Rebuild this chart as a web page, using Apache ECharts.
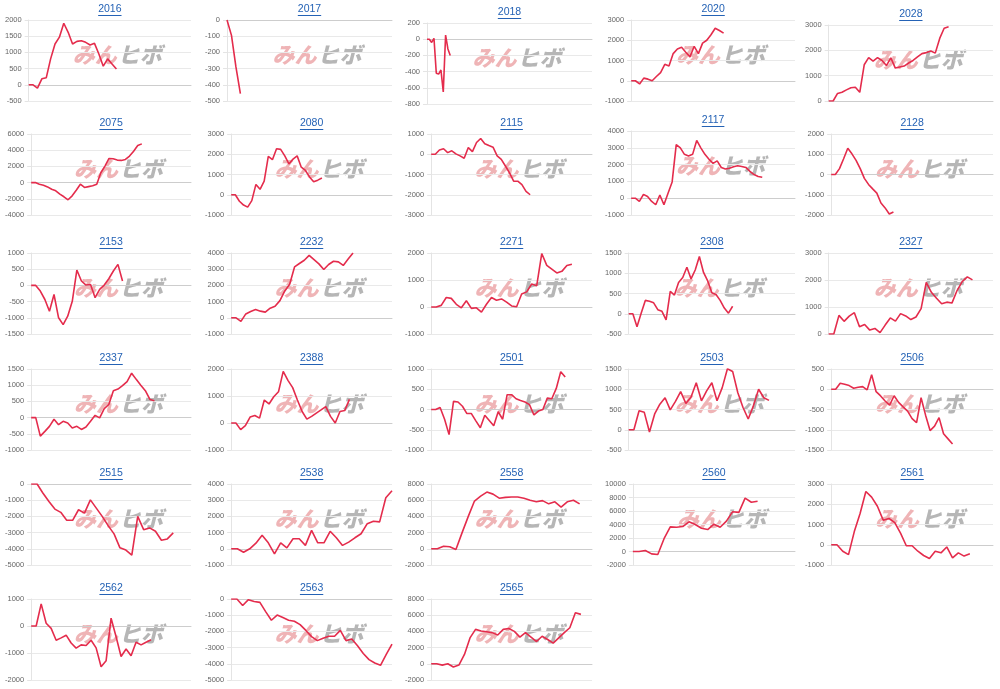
<!DOCTYPE html>
<html>
<head>
<meta charset="utf-8">
<script src="https://cdn.jsdelivr.net/npm/echarts@6/dist/echarts.min.js"></script>
<style>
html, body { margin: 0; background: #fff; }
#main { width: 1000px; height: 689px; }
</style>
</head>
<body>
<div id="main"></div>
<script>
// stock codes, one small chart each (read left to right, top to bottom)
const codes = ['2016', '2017', '2018', '2020', '2028',
               '2075', '2080', '2115', '2117', '2128',
               '2153', '2232', '2271', '2308', '2327',
               '2337', '2388', '2501', '2503', '2506',
               '2515', '2538', '2558', '2560', '2561',
               '2562', '2563', '2565'];

// cumulative profit per period
const s2016 = [0, 0, -100, 185, 215, 800, 1260, 1470, 1900, 1620, 1260, 1340, 1360, 1310, 1230, 1280, 950, 575, 800, 645, 490];
const s2017 = [0, -95, -290, -455];
const s2018 = [0, 0, -40, 10, -420, -430, -380, -650, 50, -120, -200];
const s2020 = [0, 0, -160, 130, 80, 0, 210, 400, 810, 730, 1340, 1570, 1650, 1410, 1180, 1700, 1340, 1860, 2000, 2270, 2590, 2480, 2350];
const s2028 = [0, 0, 300, 345, 440, 520, 545, 345, 1430, 1710, 1570, 1710, 1600, 1400, 1700, 1300, 1340, 1380, 1500, 1600, 1740, 1870, 1910, 1970, 1890, 2470, 2870, 2930];
const s2075 = [0, 0, -200, -330, -530, -820, -1020, -1430, -1750, -2120, -1630, -940, -200, -600, -500, -400, -200, 1220, 2040, 2980, 2940, 2780, 2740, 2860, 3270, 3880, 4570, 4780];
const s2080 = [0, 0, -320, -510, -610, -290, 510, 270, 670, 1890, 1730, 2270, 2240, 1920, 1520, 1760, 1920, 1360, 1200, 880, 640, 720, 830];
const s2115 = [0, 0, 210, 270, 80, 170, 20, -80, -200, 330, 130, 580, 780, 520, 430, 350, -80, -250, -580, -920, -1330, -1330, -1500, -1830, -2000];
const s2117 = [0, 0, -190, 230, 100, -190, -390, 190, -390, 300, 970, 3190, 3000, 2610, 2510, 2610, 3440, 3000, 2610, 2320, 2070, 2220, 1830, 1740, 1780, 1870, 1930, 1890, 1830, 1600, 1410, 1290, 1250];
const s2128 = [0, 0, 290, 780, 1300, 1020, 700, 290, -190, -490, -710, -920, -1410, -1650, -1950, -1850];
const s2153 = [0, 0, -175, -435, -800, -280, -1000, -1210, -950, -490, 475, 135, 10, 30, -380, -125, 10, 205, 445, 650, 135];
const s2232 = [0, 0, -220, 240, 390, 510, 410, 350, 590, 710, 1060, 1660, 2070, 3140, 3350, 3550, 3850, 3590, 3330, 2980, 3290, 3490, 3450, 3230, 3630, 4000];
const s2271 = [0, 0, 60, 350, 320, 100, -30, 230, -50, -30, -190, 100, 350, 250, 300, 180, 40, 10, 480, 560, 850, 790, 1980, 1540, 1400, 1260, 1320, 1540, 1580];
const s2308 = [0, 0, -320, 15, 330, 310, 270, 100, 60, -150, 550, 460, 770, 895, 1150, 860, 1080, 1415, 1020, 810, 520, 475, 330, 140, 15, 185];
const s2327 = [0, 0, 690, 470, 660, 790, 270, 350, 145, 205, 50, 330, 595, 475, 755, 670, 535, 630, 940, 1910, 1545, 1325, 1120, 1180, 1145, 1610, 1940, 2115, 2005];
const s2337 = [0, 0, -570, -425, -270, -50, -220, -115, -165, -320, -270, -365, -290, -115, 70, -10, 280, 405, 830, 880, 985, 1110, 1370, 1180, 1000, 830, 560, 520];
const s2388 = [0, 0, -245, -100, 220, 280, 180, 850, 705, 970, 1155, 1910, 1580, 1310, 850, 425, 145, 245, 365, 485, 610, 245, 0, 425, 460, 875];
const s2501 = [0, 0, 50, -240, -620, 200, 185, 80, -100, -100, -280, -450, -140, -270, -400, -55, -240, 365, 365, 265, 220, 185, 120, -135, -40, 0, 280, 265, 520, 935, 800];
const s2503 = [0, 0, 470, 430, -55, 390, 630, 790, 490, 700, 940, 650, 810, 1160, 715, 960, 1160, 715, 1040, 1505, 1440, 915, 550, 265, 590, 1000, 790, 725];
const s2506 = [0, 0, 150, 125, 90, 25, 50, 65, -15, 360, -60, -165, -290, -390, -160, -325, -435, -540, -725, -825, -210, -640, -1020, -910, -700, -1100, -1225, -1350];
const s2515 = [0, 0, -570, -1080, -1550, -1750, -2240, -2240, -1590, -1800, -980, -1490, -2000, -2570, -3080, -3940, -4080, -4390, -2000, -2820, -2710, -2920, -3470, -3390, -3020];
const s2538 = [0, 0, -210, 0, 350, 830, 370, -310, 370, 60, 620, 620, 210, 1140, 370, 370, 1080, 680, 210, 410, 680, 930, 1550, 1700, 1660, 3150, 3580];
const s2558 = [0, 0, 320, 250, -80, 2000, 4000, 5900, 6500, 7000, 6750, 6250, 6350, 6400, 6400, 6250, 6000, 5800, 5950, 5550, 5800, 5150, 5800, 6000, 5550];
const s2560 = [0, 0, 150, -350, -450, 1900, 3650, 3600, 3700, 4400, 4000, 3450, 3250, 4050, 3600, 4500, 5900, 5800, 7900, 7300, 7450];
const s2561 = [0, 0, -320, -490, 650, 1540, 2630, 2350, 1900, 1215, 1300, 1090, 570, -50, -50, -320, -530, -680, -320, -400, -110, -650, -400, -560, -450];
const s2562 = [0, 0, 820, 100, -90, -530, -440, -340, -630, -820, -700, -720, -530, -810, -1510, -1290, 290, -400, -1130, -850, -1100, -600, -700, -600, -510];
const s2563 = [0, 0, -400, -40, -150, -210, -780, -1310, -990, -1140, -1310, -1370, -1580, -1940, -2320, -2570, -2420, -2300, -2300, -1940, -2570, -2470, -2890, -3360, -3740, -3950, -4090, -3420, -2780];
const s2565 = [0, 0, -160, 0, -400, -160, 1150, 3200, 4250, 4050, 3950, 3850, 3550, 4250, 4350, 4000, 3300, 3850, 3300, 2750, 3400, 3000, 2550, 3200, 3850, 4450, 6300, 6100];

const values = [s2016, s2017, s2018, s2020, s2028, s2075, s2080, s2115, s2117, s2128,
                s2153, s2232, s2271, s2308, s2327, s2337, s2388, s2501, s2503, s2506,
                s2515, s2538, s2558, s2560, s2561, s2562, s2563, s2565];

// number of periods on each x axis (the line stops where data ends)
const periods = [38, 38, 72, 40, 38, 40, 40, 40, 41, 40,
                 36, 34, 33, 41, 33, 36, 35, 37, 33, 37,
                 28, 27, 27, 27, 29, 33, 29, 30];

// y axis ticks
const yMin  = [-500, -500, -800, -1000, 0, -4000, -1000, -3000, -1000, -2000,
               -1500, -1000, -1000, -500, 0, -1000, -1000, -1000, -500, -1500,
               -5000, -1000, -2000, -2000, -1000, -2000, -5000, -2000];
const yMax  = [2000, 0, 200, 3000, 3000, 6000, 3000, 1000, 4000, 2000,
               1000, 4000, 2000, 1500, 3000, 1500, 2000, 1000, 1500, 500,
               0, 4000, 8000, 10000, 3000, 1000, 0, 8000];
const yStep = [500, 100, 200, 1000, 1000, 2000, 1000, 1000, 1000, 1000,
               500, 1000, 1000, 500, 1000, 500, 1000, 500, 500, 500,
               1000, 1000, 2000, 2000, 1000, 1000, 1000, 2000];

// layout
const colX = [0, 200, 400, 600, 800];
const colRight = [191, 392, 592, 795, 993];
const rowTop = [20, 134, 253, 369, 484, 599];
const plotH = 81;
// small per-chart nudges seen in the reference: [top shift, height change]
const nudge = { 2: [3, 0], 4: [5, -5], 8: [-3, 3] };
const FONT = '"Liberation Sans", Arial, Helvetica, sans-serif';
const LINK = '#2462b5';
const RED = '#e42c4c';

const ctx = document.createElement('canvas').getContext('2d');
function textW(s, size) {
    ctx.font = size + 'px ' + FONT;
    return ctx.measureText(s).width;
}

const grids = [], xAxes = [], yAxes = [], series = [], graphics = [];

codes.forEach(function (code, i) {
    const col = i % 5, row = Math.floor(i / 5);
    const nd = nudge[i] || [0, 0];
    let lw = 0;
    for (let v = yMin[i]; v <= yMax[i]; v += yStep[i]) lw = Math.max(lw, textW(String(v), 7.5));
    const left = colX[col] + 5 + lw + 7;
    const right = colRight[col];
    const top = rowTop[row] + nd[0];
    const h = plotH + nd[1];
    const cx = (left + right) / 2;

    grids.push({ left: left, top: top, width: right - left, height: h });

    xAxes.push({
        type: 'category',
        gridIndex: i,
        boundaryGap: false,
        data: Array.from({ length: periods[i] }, function (_, k) { return k + 1; }),
        axisLabel: { show: false },
        axisTick: { show: false },
        axisLine: { show: true, onZero: true, lineStyle: { color: '#cdcdcd', width: 1 } },
        splitLine: { show: false }
    });

    yAxes.push({
        type: 'value',
        gridIndex: i,
        min: yMin[i],
        max: yMax[i],
        interval: yStep[i],
        axisLabel: {
            fontSize: 7.5, color: '#666', margin: 7, fontFamily: FONT,
            formatter: function (v) { return String(v); }
        },
        axisLine: { show: true, lineStyle: { color: '#e4e4e4' } },
        axisTick: { show: true, length: 4, lineStyle: { color: '#e4e4e4' } },
        splitLine: { show: true, lineStyle: { color: '#e9e9e9', width: 1 } }
    });

    series.push({
        type: 'line',
        xAxisIndex: i,
        yAxisIndex: i,
        data: values[i],
        symbol: 'none',
        showSymbol: false,
        lineStyle: { color: RED, width: 1.6 },
        itemStyle: { color: RED },
        z: 5
    });

    // title link
    const ty = top - 11;
    const tw = textW(code, 10.5);
    graphics.push({
        type: 'text', x: cx, y: ty, z: 10,
        style: { text: code, fill: LINK, font: '10.5px ' + FONT, textAlign: 'center', textVerticalAlign: 'middle', align: 'center', verticalAlign: 'middle' }
    });
    graphics.push({
        type: 'line', z: 10,
        shape: { x1: cx - tw / 2, y1: ty + 6.5, x2: cx + tw / 2, y2: ty + 6.5 },
        style: { stroke: LINK, lineWidth: 1 }
    });

    // watermark
    const wy = top + 35;
    graphics.push({
        type: 'text', x: cx + 7, y: wy, z: 0,
        style: { text: 'みん', fill: '#efb4b6', font: 'italic 900 22px "Noto Sans CJK JP"', textAlign: 'right', textVerticalAlign: 'middle', align: 'right', verticalAlign: 'middle' }
    });
    graphics.push({
        type: 'text', x: cx + 8, y: wy, z: 0,
        style: { text: 'ヒボ', fill: '#b6b6b6', font: 'italic 900 22px "Noto Sans CJK JP"', textAlign: 'left', textVerticalAlign: 'middle', align: 'left', verticalAlign: 'middle' }
    });
});

const chart = echarts.init(document.getElementById('main'));
chart.setOption({
    animation: false,
    backgroundColor: '#fff',
    grid: grids,
    xAxis: xAxes,
    yAxis: yAxes,
    series: series,
    graphic: graphics
});
</script>
</body>
</html>
